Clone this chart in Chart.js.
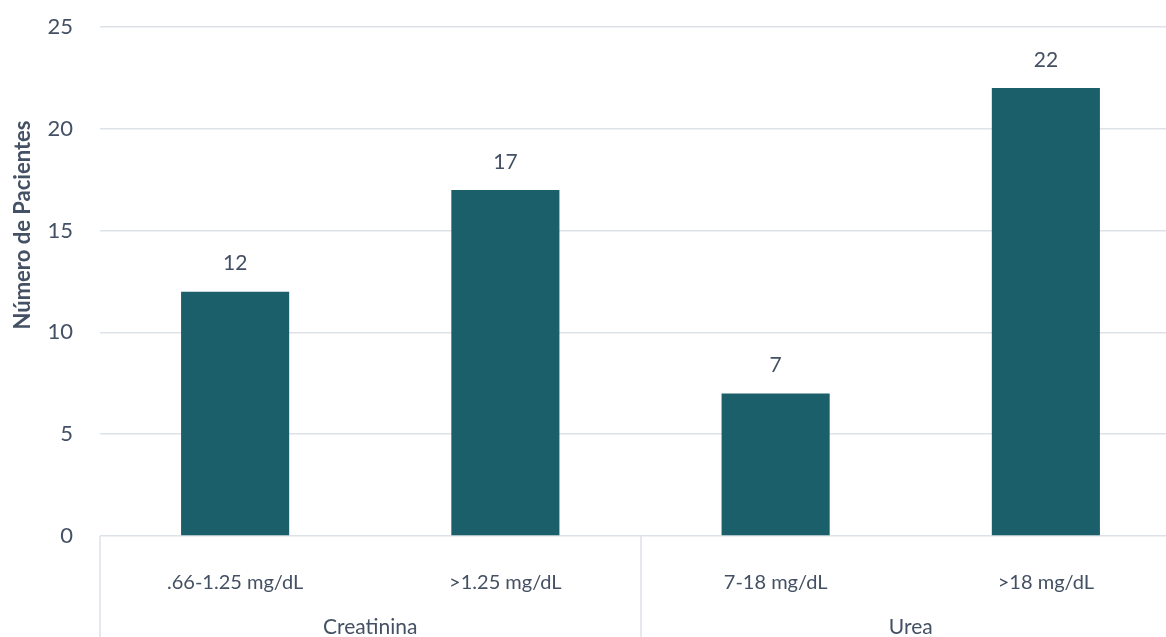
<!DOCTYPE html>
<html><head><meta charset="utf-8">
<script src="https://cdn.jsdelivr.net/npm/chart.js@4"></script>
<style>html,body{margin:0;padding:0;background:#fff;overflow:hidden}#wrap{width:1181px;height:637px;position:relative}</style>
</head><body><div id="wrap"><canvas id="c"></canvas></div>
<script>
const categories = ['.66-1.25 mg/dL', '>1.25 mg/dL', '7-18 mg/dL', '>18 mg/dL'];
const values = [12, 17, 7, 22];
const groups = ['Creatinina', 'Urea'];
const groupSizes = [2, 2];
const yMin = 0, yMax = 25, yStep = 5;
const yTitle = 'Número de Pacientes';

const barColor = '#1a5f6a';
const textColor = '#445063';
const gridColor = '#dde2e9';
const fontFamily = 'Lato, "Open Sans", sans-serif';

const deco = {
  id: 'deco',
  afterDraw(chart) {
    const ctx = chart.ctx;
    const meta = chart.getDatasetMeta(0);
    const xs = chart.scales.x;
    const area = chart.chartArea;
    ctx.save();
    ctx.font = '21px ' + fontFamily;
    ctx.fillStyle = textColor;
    ctx.textAlign = 'center';
    ctx.textBaseline = 'middle';
    meta.data.forEach((bar, i) => ctx.fillText(String(values[i]), bar.x, bar.y - 28));
    const catW = xs.width / categories.length;
    ctx.strokeStyle = gridColor;
    ctx.lineWidth = 1.5;
    let idx = 0;
    const edges = [];
    groups.forEach((g, gi) => {
      const left = xs.getPixelForValue(idx) - catW / 2;
      const right = xs.getPixelForValue(idx + groupSizes[gi] - 1) + catW / 2;
      edges.push(left, right);
      ctx.fillText(g, (left + right) / 2, area.bottom + 91);
      idx += groupSizes[gi];
    });
    [...new Set(edges.map(e => Math.round(e)))].forEach(x => {
      ctx.beginPath();
      ctx.moveTo(x, area.bottom);
      ctx.lineTo(x, chart.height);
      ctx.stroke();
    });
    ctx.translate(23, 225);
    ctx.rotate(-Math.PI / 2);
    ctx.font = 'bold 22px ' + fontFamily;
    ctx.fillText(yTitle, 0, 0);
    ctx.restore();
  }
};

new Chart(document.getElementById('c'), {
  type: 'bar',
  data: {
    labels: categories,
    datasets: [{ data: values, backgroundColor: barColor, barPercentage: 0.4, categoryPercentage: 1 }]
  },
  options: {
    responsive: true,
    maintainAspectRatio: false,
    animation: false,
    events: [],
    layout: { padding: { top: 27, right: 0, left: 0, bottom: 0 } },
    plugins: { legend: { display: false }, tooltip: { enabled: false } },
    scales: {
      x: {
        grid: { display: false },
        border: { display: false },
        ticks: { color: textColor, font: { family: fontFamily, size: 20 }, padding: 27, maxRotation: 0 },
        afterFit(s) { s.height = 101; s.paddingLeft = 0; s.paddingRight = 0; }
      },
      y: {
        min: yMin, max: yMax,
        grid: { color: gridColor, lineWidth: 1.5, drawTicks: false },
        border: { display: false },
        ticks: { stepSize: yStep, color: textColor, font: { family: fontFamily, size: 22 }, padding: 27 },
        afterFit(s) { s.width = 100; s.paddingTop = 0; s.paddingBottom = 0; }
      }
    }
  },
  plugins: [deco]
});
</script>
</body></html>
